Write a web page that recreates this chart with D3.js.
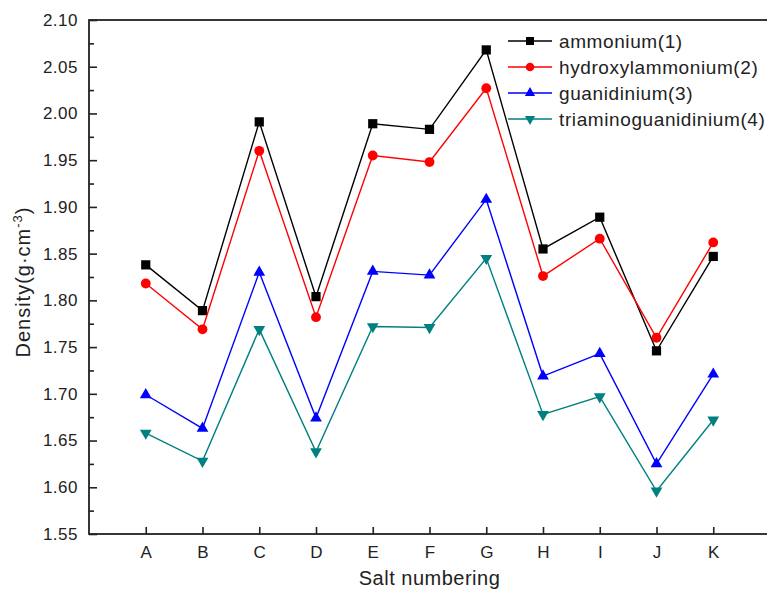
<!DOCTYPE html>
<html>
<head>
<meta charset="utf-8">
<script src="https://cdn.jsdelivr.net/npm/d3@7"></script>
<style>
  body { margin: 0; background: #fff; }
  text { font-family: "Liberation Sans", Arial, sans-serif; fill: #222; }
</style>
</head>
<body>
<div id="chart"></div>
<script>
// Data
const categories = ["A", "B", "C", "D", "E", "F", "G", "H", "I", "J", "K"];
const ammonium = [1.838, 1.789, 1.991, 1.804, 1.989, 1.983, 2.068, 1.855, 1.889, 1.746, 1.847];
const hydroxylammonium = [1.818, 1.769, 1.960, 1.782, 1.955, 1.948, 2.027, 1.826, 1.866, 1.760, 1.862];
const guanidinium = [1.699, 1.663, 1.830, 1.674, 1.831, 1.827, 1.908, 1.719, 1.743, 1.625, 1.721];
const triaminoguanidinium = [1.658, 1.628, 1.769, 1.638, 1.772, 1.771, 1.845, 1.678, 1.697, 1.596, 1.672];
const seriesNames = ["ammonium(1)", "hydroxylammonium(2)", "guanidinium(3)", "triaminoguanidinium(4)"];
const yTicks = [1.55, 1.60, 1.65, 1.70, 1.75, 1.80, 1.85, 1.90, 1.95, 2.00, 2.05, 2.10];

const W = 767, H = 589;
const margin = {top: 20, right: -3, bottom: 55, left: 89};
const width = W - margin.left - margin.right;   // plot runs slightly past the right edge
const height = H - margin.top - margin.bottom;

const svg = d3.select("#chart").append("svg")
    .attr("width", W)
    .attr("height", H);

const g = svg.append("g")
    .attr("transform", `translate(${margin.left},${margin.top})`);

const x = d3.scaleLinear().domain([0, 12]).range([0, width]);
const y = d3.scaleLinear().domain([1.55, 2.10]).range([height, 0]);

const series = [
    {name: seriesNames[0], values: ammonium, color: "#000000", symbol: d3.symbolSquare, size: 85, rot: 0},
    {name: seriesNames[1], values: hydroxylammonium, color: "#ff0000", symbol: d3.symbolCircle, size: 76, rot: 0},
    {name: seriesNames[2], values: guanidinium, color: "#0000ff", symbol: d3.symbolTriangle, size: 60, rot: 0},
    {name: seriesNames[3], values: triaminoguanidinium, color: "#008080", symbol: d3.symbolTriangle, size: 60, rot: 180}
];

// Minor y ticks
g.append("g")
    .call(d3.axisLeft(y)
        .tickValues(d3.range(0, 11).map(i => 1.575 + i * 0.05))
        .tickSize(-5)
        .tickFormat(""))
    .call(a => a.select(".domain").remove())
    .call(a => a.selectAll("line").attr("stroke", "#222").attr("stroke-width", 1.6));

// Major y ticks
g.append("g")
    .call(d3.axisLeft(y)
        .tickValues(yTicks)
        .tickSize(-8)
        .tickPadding(11)
        .tickFormat(d3.format(".2f")))
    .call(a => a.select(".domain").remove())
    .call(a => a.selectAll("line").attr("stroke", "#222").attr("stroke-width", 1.6))
    .call(a => a.selectAll("text")
        .attr("font-size", 17)
        .attr("letter-spacing", 0.5)
        .style("font-family", "Liberation Sans, Arial, sans-serif")
        .attr("fill", "#222"));

// x ticks
g.append("g")
    .attr("transform", `translate(0,${height})`)
    .call(d3.axisBottom(x)
        .tickValues(d3.range(1, categories.length + 1))
        .tickSize(-7)
        .tickPadding(12)
        .tickFormat(d => categories[d - 1]))
    .call(a => a.select(".domain").remove())
    .call(a => a.selectAll("line").attr("stroke", "#222").attr("stroke-width", 1.6))
    .call(a => a.selectAll("text")
        .attr("font-size", 17)
        .style("font-family", "Liberation Sans, Arial, sans-serif")
        .attr("fill", "#222"));

// Frame
g.append("rect")
    .attr("width", width)
    .attr("height", height)
    .attr("fill", "none")
    .attr("stroke", "#222")
    .attr("stroke-width", 1.8);

// Lines and markers
const line = d3.line()
    .x((d, i) => x(i + 1))
    .y(d => y(d));

series.forEach(s => {
    g.append("path")
        .datum(s.values)
        .attr("fill", "none")
        .attr("stroke", s.color)
        .attr("stroke-width", 1.4)
        .attr("d", line);

    g.selectAll(null)
        .data(s.values)
        .enter()
        .append("path")
        .attr("d", d3.symbol().type(s.symbol).size(s.size))
        .attr("transform", (d, i) => `translate(${x(i + 1)},${y(d)}) rotate(${s.rot})`)
        .attr("fill", s.color);
});

// Legend
const legend = svg.append("g").attr("transform", "translate(508,41)");
series.forEach((s, i) => {
    const row = legend.append("g").attr("transform", `translate(0,${i * 26})`);
    row.append("line")
        .attr("x1", 0).attr("x2", 44)
        .attr("stroke", s.color)
        .attr("stroke-width", 1.4);
    row.append("path")
        .attr("d", d3.symbol().type(s.symbol).size(s.size * 0.75))
        .attr("transform", `translate(22,0) rotate(${s.rot})`)
        .attr("fill", s.color);
    row.append("text")
        .attr("x", 51)
        .attr("y", 7)
        .attr("font-size", 19)
        .attr("letter-spacing", 0.6)
        .text(s.name);
});

// Axis titles
svg.append("text")
    .attr("x", margin.left + (770 - margin.left) / 2)
    .attr("y", 585)
    .attr("text-anchor", "middle")
    .attr("font-size", 20)
    .attr("letter-spacing", 0.5)
    .text("Salt numbering");

const yTitle = svg.append("text")
    .attr("transform", "translate(30,282) rotate(-90)")
    .attr("text-anchor", "middle")
    .attr("font-size", 20)
    .attr("letter-spacing", 1);
yTitle.append("tspan").text("Density(g·cm");
yTitle.append("tspan").attr("font-size", 13).attr("dy", -8).text("-3");
yTitle.append("tspan").attr("dy", 8).text(")");
</script>
</body>
</html>
